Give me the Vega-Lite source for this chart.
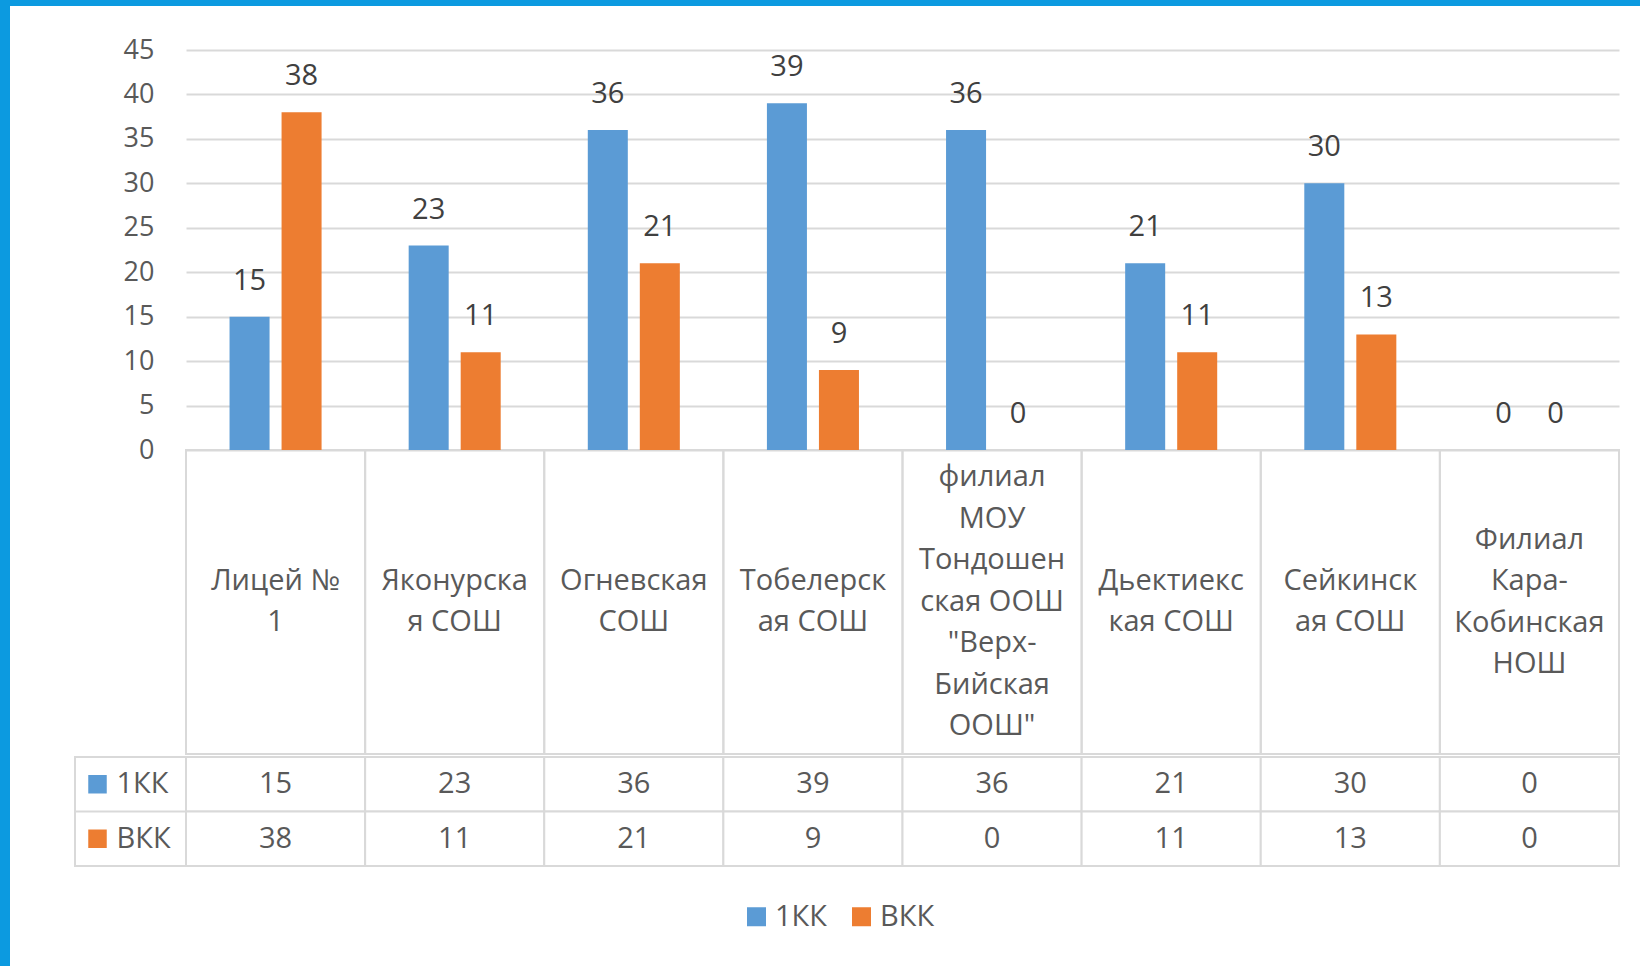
{
  "$schema": "https://vega.github.io/schema/vega-lite/v6.json",
  "background": "white",
  "padding": 0,
  "config": {
    "font": "Open Sans",
    "view": {"stroke": null},
    "concat": {"spacing": 0}
  },
  "datasets": {
    "schools": [
      {"school": "Лицей № 1", "label": "Лицей №\n1", "1КК": 15, "ВКК": 38},
      {"school": "Яконурская СОШ", "label": "Яконурска\nя СОШ", "1КК": 23, "ВКК": 11},
      {"school": "Огневская СОШ", "label": "Огневская\nСОШ", "1КК": 36, "ВКК": 21},
      {"school": "Тобелерская СОШ", "label": "Тобелерск\nая СОШ", "1КК": 39, "ВКК": 9},
      {"school": "филиал МОУ Тондошенская ООШ \"Верх-Бийская ООШ\"", "label": "филиал\nМОУ\nТондошен\nская ООШ\n\"Верх-\nБийская\nООШ\"", "1КК": 36, "ВКК": 0},
      {"school": "Дьектиекская СОШ", "label": "Дьектиекс\nкая СОШ", "1КК": 21, "ВКК": 11},
      {"school": "Сейкинская СОШ", "label": "Сейкинск\nая СОШ", "1КК": 30, "ВКК": 13},
      {"school": "Филиал Кара-Кобинская НОШ", "label": "Филиал\nКара-\nКобинская\nНОШ", "1КК": 0, "ВКК": 0}
    ]
  },
  "bounds": "full",
  "spacing": 0,
  "hconcat": [
    {
      "width": 10, "height": 966,
      "data": {"values": []},
      "mark": "rect",
      "encoding": {},
      "view": {"fill": "#0c9ae0", "stroke": null}
    },
    {
      "bounds": "full",
      "spacing": 0,
      "vconcat": [
        {
          "width": 1630, "height": 6,
          "data": {"values": []},
          "mark": "rect",
          "encoding": {},
          "view": {"fill": "#0c9ae0", "stroke": null}
        },
        {
          "bounds": "flush",
          "spacing": 0,
          "hconcat": [
            {"width": 176, "height": 748, "data": {"values": []}, "mark": "rect", "encoding": {}},
            {
              "width": 1433, "height": 748,
              "data": {"name": "schools"},
              "resolve": {"scale": {"y": "independent"}},
              "layer": [
                {
                  "encoding": {
                    "x": {"field": "school", "type": "nominal", "sort": null, "axis": null, "scale": {"paddingInner": 0, "paddingOuter": 0}}
                  },
                  "layer": [
                    {
                      "mark": {"type": "rect", "filled": false, "color": "#d9d9d9", "strokeWidth": 2},
                      "encoding": {
                        "y": {"datum": 0, "type": "quantitative", "scale": {"domain": [-34.2, 49.95], "nice": false, "zero": false}},
                        "y2": {"datum": -34.2}
                      }
                    },
                    {
                      "transform": [{"fold": ["1КК", "ВКК"], "as": ["series", "value"]}],
                      "encoding": {
                        "xOffset": {"field": "series", "type": "nominal", "sort": null, "scale": {"domain": ["1КК", "ВКК"], "paddingInner": 0.2308, "paddingOuter": 0.837}},
                        "y": {
                          "field": "value", "type": "quantitative",
                          "scale": {"domain": [-34.2, 49.95], "nice": false, "zero": false},
                          "axis": {
                            "values": [0, 5, 10, 15, 20, 25, 30, 35, 40, 45],
                            "grid": true, "gridColor": "#d9d9d9", "gridWidth": 2,
                            "domain": false, "ticks": false,
                            "labelFontSize": 27, "labelColor": "#595959", "labelPadding": 32,
                            "labelFont": "Open Sans", "title": null
                          }
                        }
                      },
                      "layer": [
                        {
                          "mark": {"type": "bar"},
                          "encoding": {
                            "color": {
                              "field": "series", "type": "nominal",
                              "scale": {"domain": ["1КК", "ВКК"], "range": ["#5b9bd5", "#ed7d31"]},
                              "legend": {
                                "orient": "none", "legendX": 742, "legendY": 902,
                                "direction": "horizontal", "title": null,
                                "symbolType": "square", "symbolSize": 361, "symbolStrokeWidth": 0,
                                "labelFontSize": 29, "labelColor": "#595959", "labelFont": "Open Sans",
                                "labelOffset": 4, "columnPadding": 20
                              }
                            }
                          }
                        },
                        {
                          "mark": {"type": "text", "baseline": "alphabetic", "dy": -27, "fontSize": 29, "color": "#404040"},
                          "encoding": {"text": {"field": "value", "type": "quantitative"}}
                        }
                      ]
                    }
                  ]
                },
                {
                  "transform": [{"calculate": "length(split(datum.label, '\\n'))", "as": "nlines"}],
                  "mark": {"type": "text", "lineBreak": "\n", "lineHeight": 41.5, "fontSize": 29, "color": "#595959", "baseline": "middle", "align": "center"},
                  "encoding": {
                    "x": {"field": "school", "type": "nominal", "sort": null, "axis": null, "scale": {"paddingInner": 0, "paddingOuter": 0}},
                    "y": {"field": "nlines", "type": "quantitative", "axis": null, "scale": {"domain": [-6.349, 29.747], "nice": false, "zero": false}},
                    "text": {"field": "label", "type": "nominal"}
                  }
                }
              ]
            }
          ]
        },
        {
          "bounds": "flush",
          "spacing": 0,
          "hconcat": [
            {"width": 65, "height": 109, "data": {"values": []}, "mark": "rect", "encoding": {}},
            {
              "width": 111, "height": 109,
              "data": {"values": [{"series": "1КК"}, {"series": "ВКК"}]},
              "view": {"stroke": "#d9d9d9", "strokeWidth": 2},
              "encoding": {
                "y": {"field": "series", "type": "nominal", "sort": null, "axis": null, "scale": {"domain": ["1КК", "ВКК"], "paddingInner": 0, "paddingOuter": 0}}
              },
              "layer": [
                {
                  "mark": {"type": "rule", "color": "#d9d9d9", "strokeWidth": 2},
                  "encoding": {
                    "y": {"field": "series", "type": "nominal", "sort": null, "bandPosition": 0, "axis": null, "scale": {"domain": ["1КК", "ВКК"], "paddingInner": 0, "paddingOuter": 0}}
                  }
                },
                {
                  "mark": {"type": "square", "size": 342, "xOffset": -33, "opacity": 1, "filled": true},
                  "encoding": {
                    "color": {"field": "series", "type": "nominal", "scale": {"domain": ["1КК", "ВКК"], "range": ["#5b9bd5", "#ed7d31"]}, "legend": null}
                  }
                },
                {
                  "mark": {"type": "text", "align": "left", "baseline": "middle", "dx": -14, "fontSize": 29, "color": "#595959"},
                  "encoding": {"text": {"field": "series", "type": "nominal"}}
                }
              ]
            },
            {
              "width": 1433, "height": 109,
              "data": {"name": "schools"},
              "transform": [{"fold": ["1КК", "ВКК"], "as": ["series", "value"]}],
              "encoding": {
                "x": {"field": "school", "type": "nominal", "sort": null, "axis": null, "scale": {"paddingInner": 0, "paddingOuter": 0}},
                "y": {"field": "series", "type": "nominal", "sort": null, "axis": null, "scale": {"domain": ["1КК", "ВКК"], "paddingInner": 0, "paddingOuter": 0}}
              },
              "layer": [
                {"mark": {"type": "rect", "fill": "white", "stroke": "#d9d9d9", "strokeWidth": 2}},
                {
                  "mark": {"type": "text", "fontSize": 29, "color": "#595959", "baseline": "middle"},
                  "encoding": {"text": {"field": "value", "type": "quantitative"}}
                }
              ]
            }
          ]
        }
      ]
    }
  ]
}
